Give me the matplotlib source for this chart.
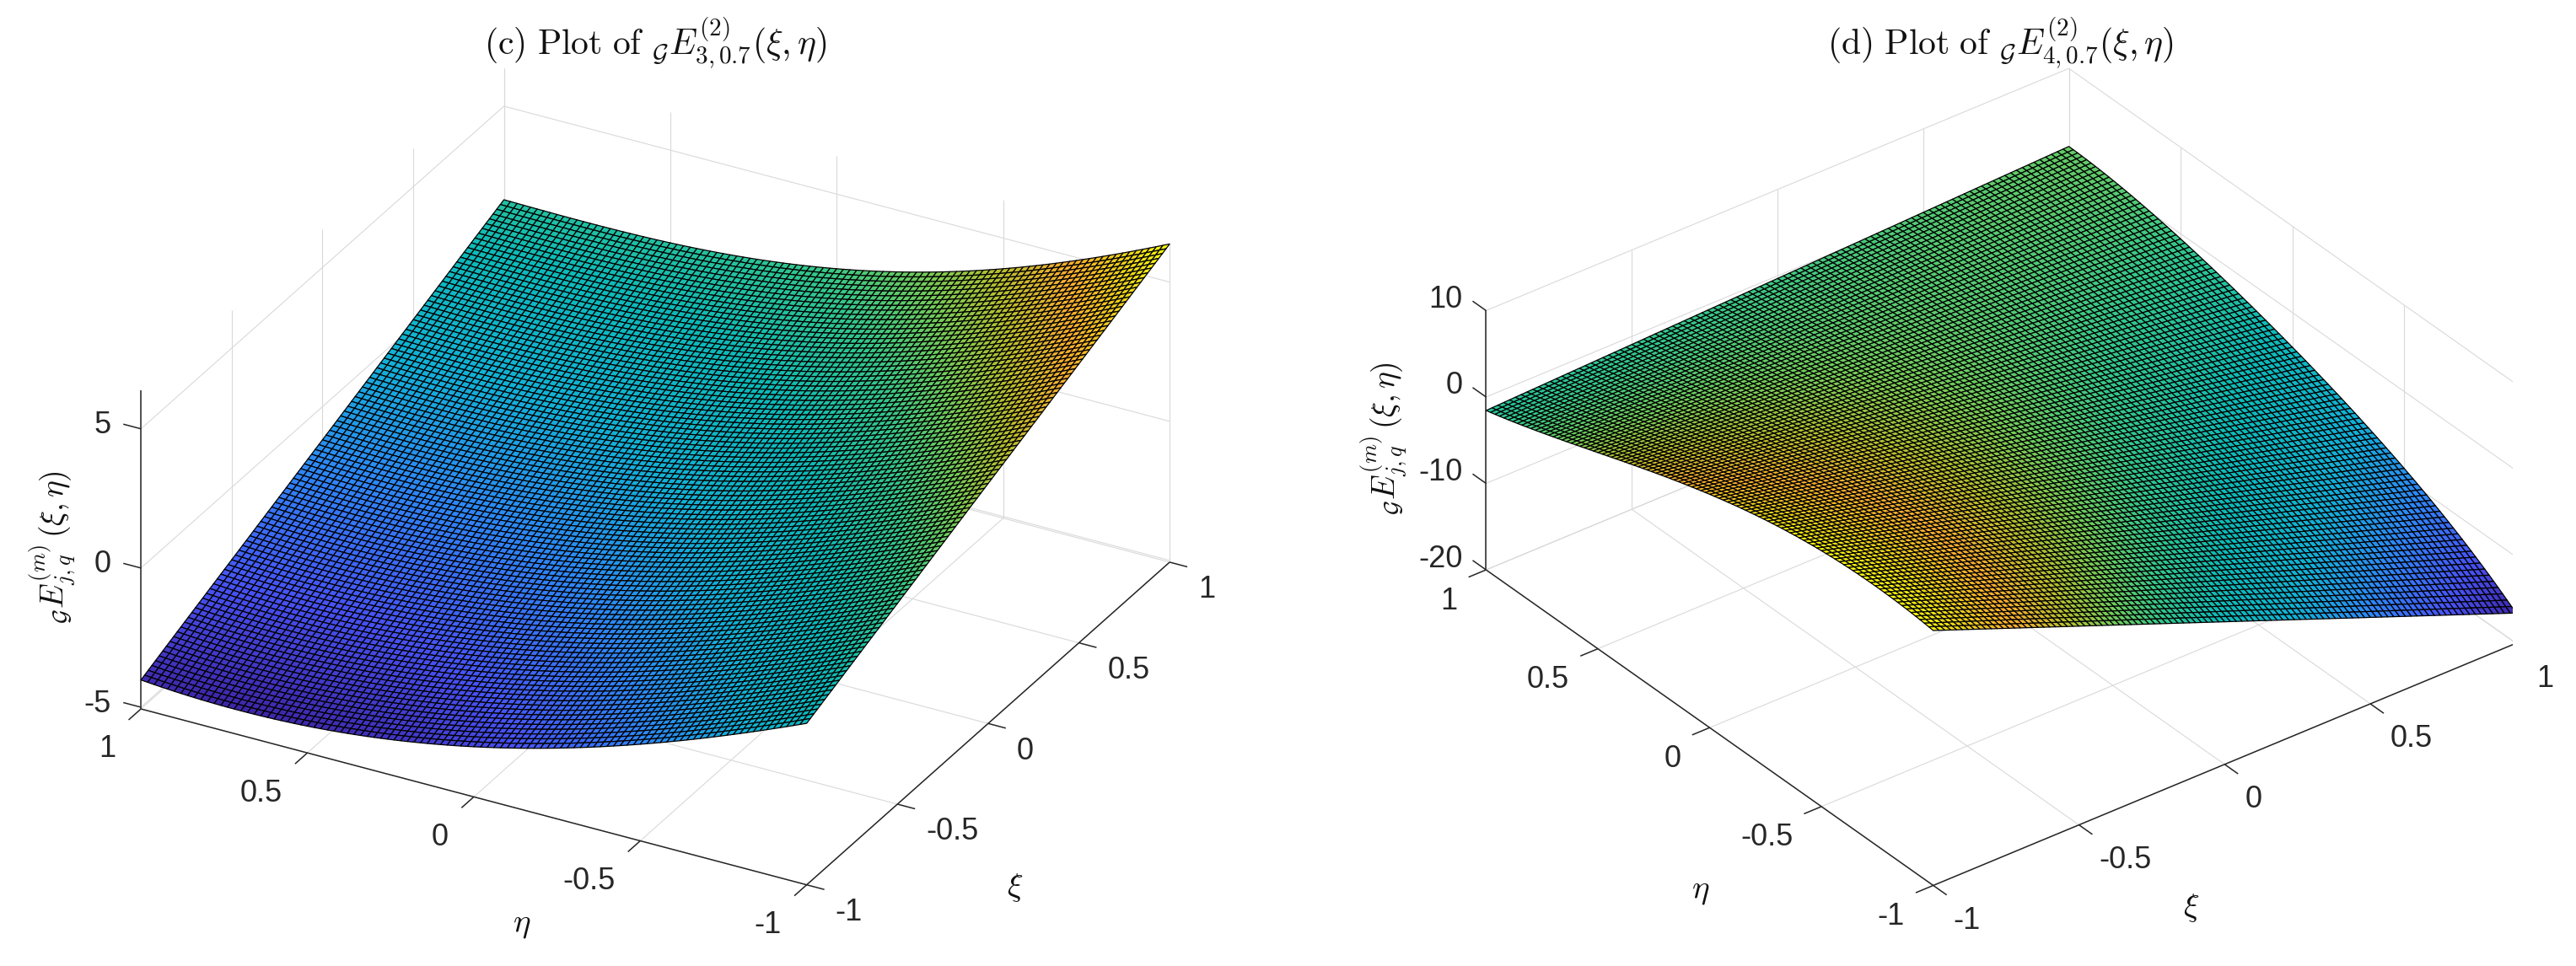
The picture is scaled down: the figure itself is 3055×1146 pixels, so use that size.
import numpy as np
import matplotlib
matplotlib.use("Agg")
import matplotlib.pyplot as plt
from matplotlib.colors import LinearSegmentedColormap
from mpl_toolkits.mplot3d import proj3d

# Values at the tick nodes.
xi_nodes = [-1, -0.5, 0, 0.5, 1]
eta_nodes = [1, 0.5, 0, -0.5, -1]
z_c = [[-4.02, -2.60, -1.19, 0.23, 1.64],
       [-4.10, -2.66, -1.22, 0.23, 1.67],
       [-3.26, -1.87, -0.47, 0.93, 2.32],
       [-1.59, -0.22, 1.16, 2.53, 3.90],
       [0.74, 2.15, 3.56, 4.96, 6.37]]
z_d = [[-1.56, -0.93, -0.30, 0.34, 0.97],
       [2.70, 1.88, 1.05, 0.23, -0.60],
       [7.00, 4.25, 1.50, -1.25, -4.00],
       [9.60, 4.98, 0.35, -4.28, -8.90],
       [9.50, 3.00, -3.50, -10.00, -16.50]]
xi_ticks = [-1, -0.5, 0, 0.5, 1]
eta_ticks = [-1, -0.5, 0, 0.5, 1]
tick_text = {-1: "-1", -0.5: "-0.5", 0: "0", 0.5: "0.5", 1: "1"}
z_ticks_c = [-5, 0, 5]
z_ticks_d = [-20, -10, 0, 10]
zlim_c = (-5.06, 6.37)
zlim_d = (-20, 10)
title_c = r"$\mathrm{(c)\ Plot\ of\ }{}_{\mathcal{G}}E^{(2)}_{3,0.7}(\xi,\eta)$"
title_d = r"$\mathrm{(d)\ Plot\ of\ }{}_{\mathcal{G}}E^{(2)}_{4,0.7}(\xi,\eta)$"
zlabel = r"${}_{\mathcal{G}}E^{(m)}_{j,q}\,(\xi,\eta)$"

parula = LinearSegmentedColormap.from_list("parula_like", [
    (0.00, (0.2422, 0.1504, 0.6603)), (0.12, (0.2810, 0.3228, 0.9579)),
    (0.25, (0.1786, 0.5289, 0.9682)), (0.375, (0.0689, 0.6948, 0.8394)),
    (0.50, (0.05, 0.73, 0.72)), (0.60, (0.20, 0.78, 0.55)),
    (0.68, (0.45, 0.80, 0.35)), (0.76, (0.72, 0.75, 0.18)),
    (0.85, (0.98, 0.68, 0.18)), (0.93, (0.92, 0.82, 0.10)),
    (1.00, (0.98, 0.98, 0.05))])

FW, FH = 3055, 1146
DPI = 100
plt.rcParams["mathtext.fontset"] = "cm"
plt.rcParams["font.family"] = ["Liberation Sans", "DejaVu Sans"]
INK = "#262626"
GRID = "#d9d9d9"
TICK_SIZE = 26
fig = plt.figure(figsize=(FW / DPI, FH / DPI), dpi=DPI, facecolor="white")


def render_mesh(table):
    # The reference mesh has ~100x100 cells; the 5x5 read-off table is
    # refined with a polynomial through its nodes only to draw that mesh.
    xs = np.linspace(-1, 1, 101)
    es = np.linspace(-1, 1, 101)
    t = np.asarray(table, float)
    per_col = np.array([np.polyval(np.polyfit(eta_nodes, t[:, j], 4), es) for j in range(5)]).T
    Z = np.array([np.polyval(np.polyfit(xi_nodes, row, 4), xs) for row in per_col])
    X, E = np.meshgrid(xs, es)
    return X, E, Z


def fit_axes(ax, A, B, C):
    """Scale/translate the square axes so the floor corners land on pixel targets."""
    pts3 = [(-1, 1), (-1, -1), (1, -1)]
    tgt = np.array([A, B, C], float)
    z0 = ax._floor
    x, y, w = 200.0, 100.0, 1000.0
    for _ in range(3):
        ax.set_position([x / FW, y / FH, w / FW, w / FH])
        ax.apply_aspect()
        M = ax.get_proj()
        uv = [proj3d.proj_transform(p[0], p[1], z0, M)[:2] for p in pts3]
        px = ax.transData.transform(np.array(uv))
        t = np.column_stack([tgt[:, 0], FH - tgt[:, 1]])
        s = (np.linalg.norm(t[1] - t[0]) + np.linalg.norm(t[2] - t[1])) / (
            np.linalg.norm(px[1] - px[0]) + np.linalg.norm(px[2] - px[1]))
        c_cur = px.mean(axis=0)
        c_tgt = t.mean(axis=0)
        x_new = c_tgt[0] - (c_cur[0] - x) * s
        y_new = c_tgt[1] - (c_cur[1] - y) * s
        x, y, w = x_new, y_new, w * s
    ax.set_position([x / FW, y / FH, w / FW, w / FH])
    ax.apply_aspect()


def panel(table, zlim, zticks, view, aspect, corners, tick_len, off_z, off_eta, off_xi,
          title, title_xy, lab_xy, eta_xy, xi_xy):
    ax = fig.add_axes([0.1, 0.1, 0.3, 0.8], projection="3d", computed_zorder=False, proj_type="ortho")
    ax.set_axis_off()
    ax.patch.set_visible(False)
    ax.set_autoscale_on(False)
    ax.set_xlim(-1, 1)
    ax.set_ylim(-1, 1)
    ax.set_zlim(*zlim)
    ax.view_init(elev=view[0], azim=view[1])
    ax.set_box_aspect((1, 1, aspect))
    ax._floor = zlim[0]
    z0, z1 = zlim

    def line(xs, ys, zs, color, lw, zo):
        ax.plot(xs, ys, zs, color=color, lw=lw, zorder=zo, solid_capstyle="butt")

    for v in xi_ticks:
        line([v, v], [-1, 1], [z0, z0], GRID, 0.8, 1)
        line([v, v], [1, 1], [z0, z1], GRID, 0.8, 1)
    for v in eta_ticks:
        line([-1, 1], [v, v], [z0, z0], GRID, 0.8, 1)
        line([1, 1], [v, v], [z0, z1], GRID, 0.8, 1)
    for v in zticks:
        line([-1, 1], [1, 1], [v, v], GRID, 0.8, 1)
        line([1, 1], [-1, 1], [v, v], GRID, 0.8, 1)

    line([-1, -1], [-1, 1], [z0, z0], INK, 1.1, 1.5)
    line([-1, 1], [-1, -1], [z0, z0], INK, 1.1, 1.5)
    line([-1, -1], [1, 1], [z0, z1], INK, 1.1, 1.5)
    for v in eta_ticks:
        line([-1, -1 - tick_len[0]], [v, v], [z0, z0], INK, 1.1, 1.5)
    for v in xi_ticks:
        line([v, v], [-1, -1 - tick_len[1]], [z0, z0], INK, 1.1, 1.5)
    for v in zticks:
        line([-1, -1], [1, 1 + tick_len[1]], [v, v], INK, 1.1, 1.5)

    X, E, Z = render_mesh(table)
    ax.plot_surface(X, E, Z, rstride=1, cstride=1, cmap=parula, vmin=Z.min(), vmax=Z.max(),
                    shade=False, edgecolor="k", linewidth=0.9, antialiased=True, zorder=2)

    fit_axes(ax, *corners)
    M = ax.get_proj()

    def label(x, e, z, txt, off, ha):
        u, v, _ = proj3d.proj_transform(x, e, z, M)
        ax.annotate(txt, xy=(u, v), xycoords="data", xytext=off, textcoords="offset pixels",
                    ha=ha, va="center", fontsize=TICK_SIZE, color=INK, annotation_clip=False)

    for v in zticks:
        label(-1, 1, v, str(v), off_z, "right")
    for v in eta_ticks:
        label(-1, v, z0, tick_text[v], off_eta, "right")
    for v in xi_ticks:
        label(v, -1, z0, tick_text[v], off_xi, "left")

    def ftext(xy, s, size, **kw):
        fig.text(xy[0] / FW, 1 - xy[1] / FH, s, fontsize=size, color="#111111", **kw)

    ftext(title_xy, title, 30, ha="center", va="baseline")
    ftext(lab_xy, zlabel, 27, ha="center", va="center", rotation=90)
    ftext(eta_xy, r"$\eta$", 28, ha="center", va="center")
    ftext(xi_xy, r"$\xi$", 28, ha="center", va="center")


panel(z_c, zlim_c, z_ticks_c, (29.0, 208.6), 0.48,
      ((167, 841), (957, 1049.6), (1387, 667)), (0.068, 0.053),
      (-36, 4), (-30, -48), (34, -33),
      title_c, (777, 65), (62, 650), (619, 1097), (1204, 1053))
panel(z_d, zlim_d, z_ticks_d, (32.8, 232.5), 0.42,
      ((1763, 674), (2291, 1049.6), (2985, 766)), (0.06, 0.06),
      (-28, 13), (-34, -37), (24, -42),
      title_d, (2372, 65), (1641, 521), (2017, 1057), (2599, 1077))

fig.savefig("out.png", dpi=DPI, facecolor="white")
